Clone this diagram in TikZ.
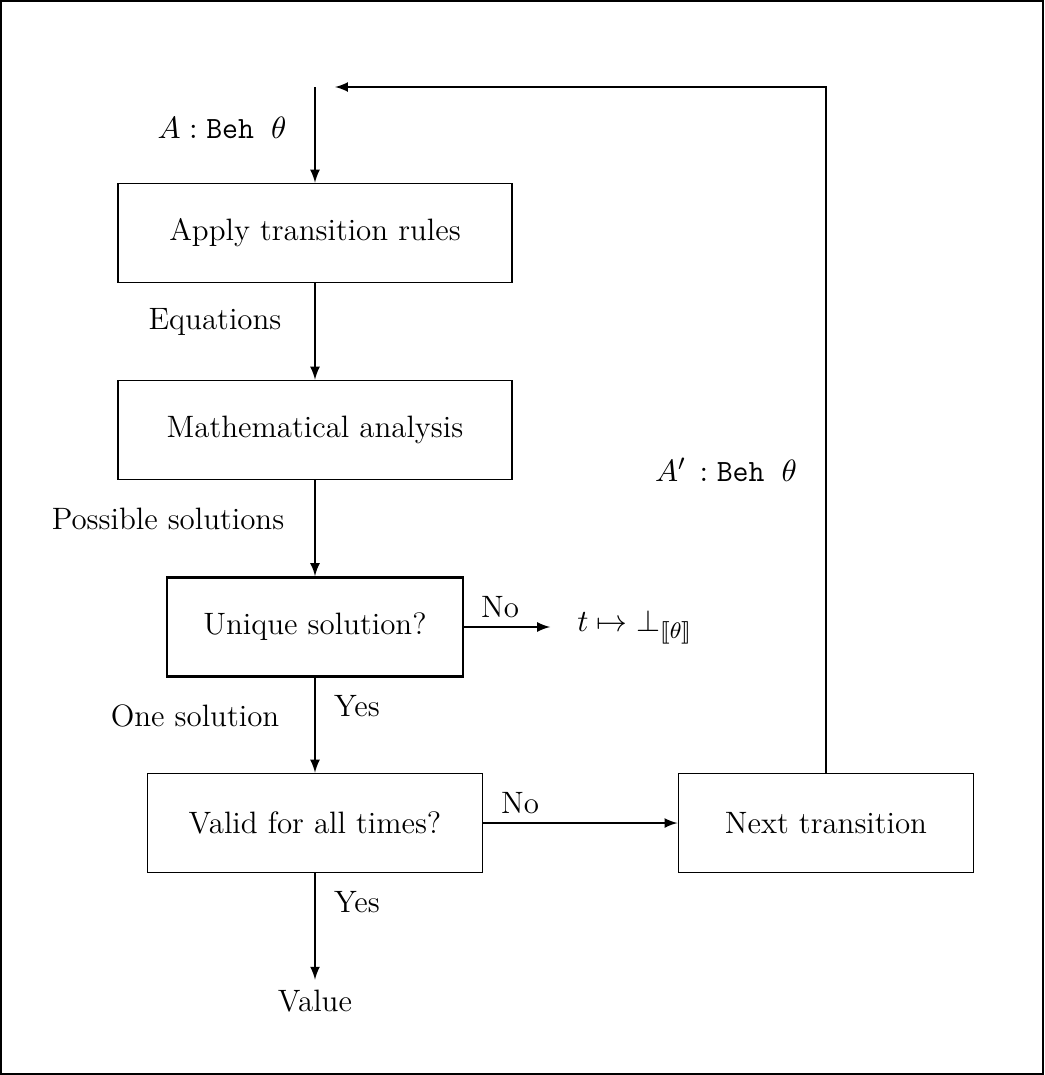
\documentclass[tikz,border=0pt]{standalone}
\usepackage{stmaryrd}
\usetikzlibrary{arrows}
\begin{document}
\begin{tikzpicture}[x=0.0125cm,y=-0.0125cm,line width=0.6pt,
    font=\fontsize{11pt}{13pt}\selectfont,
    stagebox/.style={draw,minimum height=1.2375cm,inner sep=0pt},
    flow/.style={-latex}]
  \useasboundingbox (0,0) rectangle (1044,1075);
  \draw (1,1) rectangle (1043,1074);
  % boxes
  \node [stagebox,minimum width=4.925cm] (apply) at (315,233) {Apply transition rules};
  \node [stagebox,minimum width=4.925cm] (analysis) at (315,430) {Mathematical analysis};
  \node [stagebox,minimum width=3.7cm,line width=1pt] (unique) at (315,627) {Unique solution?};
  \node [stagebox,minimum width=4.19cm] (valid) at (315,823) {Valid for all times?};
  \node [stagebox,minimum width=3.69cm] (next) at (826,823) {Next transition};
  \node (value) at (315,1001) {Value};
  \node (bottom) at (635,627) {$t\mapsto\bot_{\llbracket\theta\rrbracket}$};
  % labels
  \node (lbeh) at (222,128) {$A:\texttt{Beh}\;\;\theta$};
  \node (leq) at (215,322) {Equations};
  \node (lsol) at (168,519) {Possible solutions};
  \node (lone) at (195,716) {One solution};
  \node (lyes1) at (357,706) {Yes};
  \node (lyes2) at (357,902) {Yes};
  \node (lno1) at (500,607) {No};
  \node (lno2) at (520,803) {No};
  \node (lbeh2) at (726,470) {$A'\,:\texttt{Beh}\;\;\theta$};
  % connectors
  \coordinate (in) at (315,87);
  \coordinate (corner) at (826,87);
  \coordinate (back) at (335,87);
  \draw [flow] (in) -- (apply.north);
  \draw [flow] (apply) -- (analysis);
  \draw [flow] (analysis) -- (unique);
  \draw [flow] (unique) -- (valid);
  \draw [flow] (valid.south) -- (value.north);
  \draw [flow,shorten >=6pt] (unique.east) -- (bottom.west);
  \draw [flow] (valid) -- (next);
  \draw [flow] (next.north) -- (corner) -- (back);
\end{tikzpicture}
\end{document}
